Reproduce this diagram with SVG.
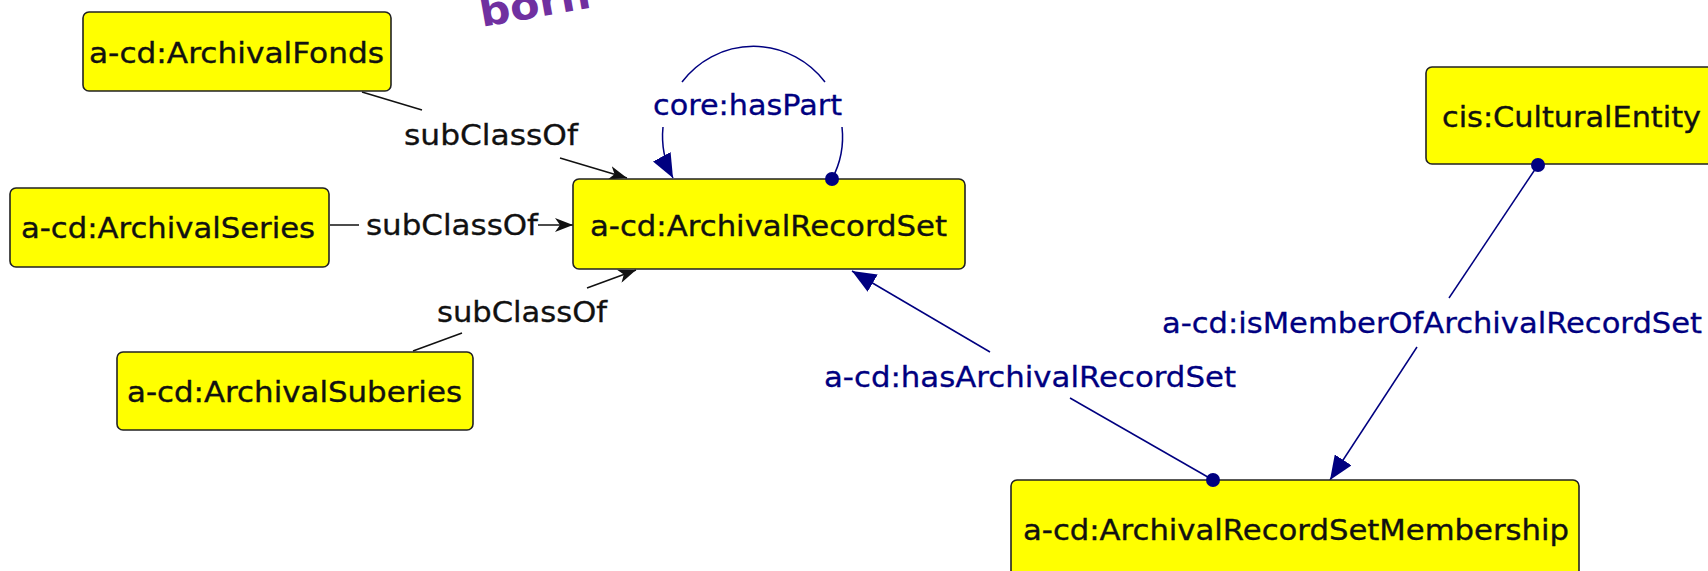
<svg xmlns="http://www.w3.org/2000/svg" width="1708" height="571" viewBox="0 0 1708 571">
<style>
  .node rect { fill: #ffff00; stroke: #222222; stroke-width: 1.6; }
  .node text { font-family: "DejaVu Sans", "Liberation Sans", sans-serif; font-size: 27.5px; fill: #111111; stroke: #111111; stroke-width: 0.35; }
  .lbl { font-family: "DejaVu Sans", "Liberation Sans", sans-serif; font-size: 27.5px; stroke-width: 0.3; }
  .sub { fill: #111111; stroke: #111111; }
  .obj { fill: #000080; stroke: #000080; }
  .eb { stroke: #111111; stroke-width: 1.5; fill: none; }
  .en { stroke: #000080; stroke-width: 1.5; fill: none; }
  .dot { fill: #000080; }
  .ghost { font-family: "DejaVu Sans", "Liberation Sans", sans-serif; font-size: 40px; font-weight: bold; fill: #7030a0; }
</style>
<defs>
  <marker id="arrBlack" viewBox="0 0 18 14" refX="18" refY="7" markerWidth="18" markerHeight="14" markerUnits="userSpaceOnUse" orient="auto">
    <path d="M18,7 L0,0 L5,7 L0,14 z" fill="#111111"/>
  </marker>
  <marker id="arrNavy" viewBox="0 0 24 20" refX="24" refY="10" markerWidth="24" markerHeight="20" markerUnits="userSpaceOnUse" orient="auto">
    <path d="M24,10 L0,0 L0,20 z" fill="#000080"/>
  </marker>
</defs>

<text class="ghost" x="482" y="27" transform="rotate(-10 482 27)" textLength="112" lengthAdjust="spacingAndGlyphs">born</text>

<g id="connectors">
  <!-- Fonds subClassOf RecordSet -->
  <line class="eb" x1="362" y1="92" x2="422" y2="110"/>
  <line class="eb" x1="560" y1="158" x2="627" y2="178" marker-end="url(#arrBlack)"/>
  <text class="lbl sub" x="404" y="145" textLength="174" lengthAdjust="spacingAndGlyphs">subClassOf</text>
  <!-- Series subClassOf RecordSet -->
  <line class="eb" x1="330" y1="225" x2="359" y2="225"/>
  <line class="eb" x1="538" y1="225" x2="573" y2="225" marker-end="url(#arrBlack)"/>
  <text class="lbl sub" x="366" y="235" textLength="172" lengthAdjust="spacingAndGlyphs">subClassOf</text>
  <!-- Subseries subClassOf RecordSet -->
  <line class="eb" x1="413" y1="351" x2="462" y2="333"/>
  <line class="eb" x1="587" y1="288" x2="636" y2="270" marker-end="url(#arrBlack)"/>
  <text class="lbl sub" x="437" y="322" textLength="170" lengthAdjust="spacingAndGlyphs">subClassOf</text>
  <!-- core:hasPart loop -->
  <path class="en" d="M 682 82 A 89.5 89.5 0 0 1 825 82"/>
  <path class="en" d="M 842 127 A 89.5 89.5 0 0 1 832 179"/>
  <path class="en" d="M 663 127 A 89.5 89.5 0 0 0 673 178" marker-end="url(#arrNavy)"/>
  <text class="lbl obj" x="653" y="115" textLength="189" lengthAdjust="spacingAndGlyphs">core:hasPart</text>
  <!-- hasArchivalRecordSet -->
  <line class="en" x1="1213" y1="480" x2="1070" y2="398"/>
  <line class="en" x1="990" y1="352" x2="852" y2="271" marker-end="url(#arrNavy)"/>
  <text class="lbl obj" x="824" y="387" textLength="412" lengthAdjust="spacingAndGlyphs">a-cd:hasArchivalRecordSet</text>
  <!-- isMemberOfArchivalRecordSet -->
  <line class="en" x1="1538" y1="165" x2="1449" y2="298"/>
  <line class="en" x1="1417" y1="347" x2="1330" y2="480" marker-end="url(#arrNavy)"/>
  <text class="lbl obj" x="1162" y="333" textLength="540" lengthAdjust="spacingAndGlyphs">a-cd:isMemberOfArchivalRecordSet</text>
</g>

<g id="n-fonds" class="node">
  <rect x="83" y="12" width="308" height="79" rx="6"/>
  <text x="89" y="63" textLength="295" lengthAdjust="spacingAndGlyphs">a-cd:ArchivalFonds</text>
</g>
<g id="n-series" class="node">
  <rect x="10" y="188" width="319" height="79" rx="6"/>
  <text x="21" y="238" textLength="294" lengthAdjust="spacingAndGlyphs">a-cd:ArchivalSeries</text>
</g>
<g id="n-subseries" class="node">
  <rect x="117" y="352" width="356" height="78" rx="6"/>
  <text x="127" y="402" textLength="335" lengthAdjust="spacingAndGlyphs">a-cd:ArchivalSuberies</text>
</g>
<g id="n-recordset" class="node">
  <rect x="573" y="179" width="392" height="90" rx="6"/>
  <text x="590" y="236" textLength="357" lengthAdjust="spacingAndGlyphs">a-cd:ArchivalRecordSet</text>
</g>
<g id="n-culturalentity" class="node">
  <rect x="1426" y="67" width="300" height="97" rx="6"/>
  <text x="1442" y="127" textLength="259" lengthAdjust="spacingAndGlyphs">cis:CulturalEntity</text>
</g>
<g id="n-membership" class="node">
  <rect x="1011" y="480" width="568" height="97" rx="6"/>
  <text x="1023" y="540" textLength="546" lengthAdjust="spacingAndGlyphs">a-cd:ArchivalRecordSetMembership</text>
</g>

<g id="connector-ends">
  <circle class="dot" cx="832" cy="179" r="7"/>
  <circle class="dot" cx="1213" cy="480" r="7"/>
  <circle class="dot" cx="1538" cy="165" r="7"/>
</g>
</svg>
